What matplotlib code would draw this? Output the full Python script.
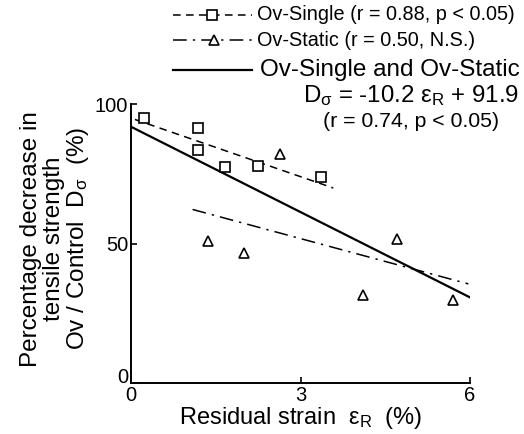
import matplotlib
matplotlib.use("Agg")
import matplotlib.pyplot as plt
from matplotlib.lines import Line2D
import numpy as np

plt.rcParams['font.family'] = ['Liberation Sans', 'DejaVu Sans']
plt.rcParams['mathtext.fontset'] = 'custom'
plt.rcParams['mathtext.rm'] = 'Liberation Sans'
plt.rcParams['mathtext.it'] = 'Liberation Sans'
plt.rcParams['mathtext.default'] = 'regular'

# Data
single_x = [0.23, 1.19, 1.18, 1.66, 2.24, 3.37]
single_y = [95.1, 91.3, 83.5, 77.5, 77.8, 73.9]
static_x = [2.63, 1.36, 2.00, 4.71, 4.11, 5.70]
static_y = [82.1, 50.9, 46.5, 51.6, 31.5, 29.7]

# regression lines: slope, intercept, x range
single_fit = (-7.0, 95.0, [0.07, 3.58])
static_fit = (-5.47, 68.2, [1.09, 5.97])
all_fit = (-10.2, 91.9, [0.0, 6.0])

fig = plt.figure(figsize=(5.24, 4.34), dpi=100)
ax = fig.add_axes([0.25, 0.1175, 0.647, 0.6425])

for (m, b, xr), ls, lw in [(single_fit, (0, (5, 3.5)), 1.1),
                           (static_fit, (0, (9, 4, 1.5, 4)), 1.1),
                           (all_fit, '-', 1.6)]:
    xs = np.array(xr)
    ax.plot(xs, m * xs + b, color='black', linestyle=ls, linewidth=lw)

ax.plot(single_x, single_y, linestyle='none', marker='s', markersize=7.5,
        markerfacecolor='white', markeredgecolor='black', markeredgewidth=1.2)
ax.plot(static_x, static_y, linestyle='none', marker='^', markersize=7.5,
        markerfacecolor='white', markeredgecolor='black', markeredgewidth=1.2)

ax.set_xlim(0, 6)
ax.set_ylim(0, 100)
ax.set_xticks([0, 3, 6])
ax.set_yticks([0, 50, 100])
ax.spines['top'].set_visible(False)
ax.spines['right'].set_visible(False)
for s in ['left', 'bottom']:
    ax.spines[s].set_linewidth(1.4)
ax.tick_params(direction='in', length=4, width=1.2, labelsize=14.5, pad=2)
ax.get_yticklabels()[0].set_verticalalignment('baseline')

ax.set_xlabel('Residual strain  ε$_{R}$  (%)', fontsize=17, labelpad=0)

fig.text(0.106, 0.450,
         'Percentage decrease in\ntensile strength\nOv / Control  D$_{σ}$  (%)',
         rotation=90, ha='center', va='center', fontsize=17.5,
         linespacing=1.02, multialignment='center')

# Legend drawn manually
def ly(p):
    return 1 - p / 434

def lx(p):
    return p / 524

fig.add_artist(Line2D([lx(173), lx(252)], [ly(15), ly(15)], color='black',
                      linestyle=(0, (5, 3.5)), linewidth=1.1))
fig.add_artist(Line2D([lx(212)], [ly(15)], marker='s', markersize=7.5,
                      markerfacecolor='white', markeredgecolor='black',
                      markeredgewidth=1.2, linestyle='none'))
fig.text(lx(257), ly(15), 'Ov-Single (r = 0.88, p < 0.05)', fontsize=14.3,
         ha='left', va='center')

fig.add_artist(Line2D([lx(173), lx(252)], [ly(40), ly(40)], color='black',
                      linestyle=(0, (9, 4, 1.5, 4)), linewidth=1.1))
fig.add_artist(Line2D([lx(214)], [ly(40)], marker='^', markersize=7.5,
                      markerfacecolor='white', markeredgecolor='black',
                      markeredgewidth=1.2, linestyle='none'))
fig.text(lx(257), ly(40), 'Ov-Static (r = 0.50, N.S.)', fontsize=14.3,
         ha='left', va='center')

fig.add_artist(Line2D([lx(173), lx(252)], [ly(70), ly(70)], color='black',
                      linestyle='-', linewidth=1.6))
fig.text(lx(260), ly(70), 'Ov-Single and Ov-Static', fontsize=17.5,
         ha='left', va='center')
fig.text(lx(303), ly(96), 'D$_{σ}$ = -10.2 ε$_{R}$ + 91.9', fontsize=17.3,
         ha='left', va='center')
fig.text(lx(323), ly(121), '(r = 0.74, p < 0.05)', fontsize=15.3,
         ha='left', va='center')

fig.savefig('out.png', dpi=100)
